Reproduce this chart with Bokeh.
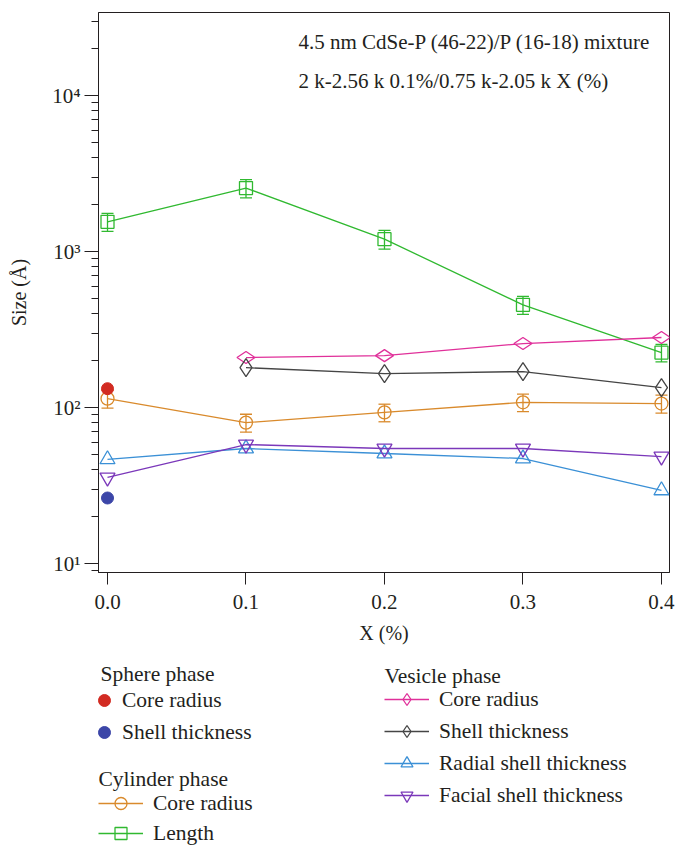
from bokeh.plotting import figure
from bokeh.layouts import column
from bokeh.models import (ColumnDataSource, Whisker, TeeHead, Legend, LegendItem,
                          FixedTicker, Range1d, Label, NumeralTickFormatter,
                          CustomJSTickFormatter)
from bokeh.embed import file_html
from bokeh.resources import INLINE
import math

FONT = "Liberation Serif"
TXT = "#231f20"

# ---------------- data ----------------
x_all = [0.0, 0.1, 0.2, 0.3, 0.4]
x_vesicle = [0.1, 0.2, 0.3, 0.4]
x_sphere = [0.0]

sphere_core_radius = [132]
sphere_shell_thickness = [26.3]

cyl_core_radius = [114, 80, 93, 108, 106]
cyl_core_radius_err = [15, 10.5, 12, 14, 14]
cyl_length = [1550, 2550, 1200, 455, 225]
cyl_length_err = [205, 340, 165, 60, 29]

ves_core_radius = [209, 215, 257, 281]
ves_shell_thickness = [180, 165, 170, 134]
ves_radial_shell = [46.5, 54.6, 50.7, 47.1, 29.4]
ves_facial_shell = [35.6, 57.9, 54.6, 54.6, 48.5]

y_major_ticks = [10, 100, 1000, 10000]
y_minor_ticks = [m * 10 ** k for k in range(0, 5) for m in range(2, 10)]
x_ticks = [0.0, 0.1, 0.2, 0.3, 0.4]

annot_line1 = "4.5 nm CdSe-P (46-22)/P (16-18) mixture"
annot_line2 = "2 k-2.56 k 0.1%/0.75 k-2.05 k X (%)"

C_RED = "#d22b22"
C_NAVY = "#3c46a8"
C_ORANGE = "#d98a2c"
C_GREEN = "#30b930"
C_PINK = "#e0309a"
C_GRAY = "#454545"
C_BLUE = "#3b90d6"
C_PURPLE = "#7b38ba"

LW = 1.3

# ---------------- main figure ----------------
p = figure(frame_width=571, frame_height=560,
           min_border_left=98, min_border_right=8, min_border_top=12, min_border_bottom=78,
           y_axis_type="log",
           x_range=Range1d(-0.0065, 0.4058),
           y_range=Range1d(10 ** 0.94231, 10 ** 4.5321),
           output_backend="svg", toolbar_location=None,
           background_fill_color="white", border_fill_color="white")
p.xgrid.visible = False
p.ygrid.visible = False
p.outline_line_color = TXT
p.outline_line_width = 1

# legend-only figure (below the plot); its frame is aligned with the main frame
lg = figure(width=677, height=197, x_range=Range1d(10, 11), y_range=Range1d(-2, -1),
            min_border_left=0, min_border_right=0, min_border_top=0, min_border_bottom=0,
            x_axis_location=None, y_axis_location=None,
            output_backend="svg", toolbar_location=None,
            background_fill_color="white", border_fill_color="white")
lg.xgrid.visible = False
lg.ygrid.visible = False
lg.outline_line_color = None


def err_source(xs, ys, es):
    return ColumnDataSource(dict(x=xs, upper=[y + e for y, e in zip(ys, es)],
                                 lower=[y - e for y, e in zip(ys, es)]))


def add_whisker(fig, xs, ys, es, color):
    w = Whisker(source=err_source(xs, ys, es), base="x", upper="upper", lower="lower",
                line_color=color, line_width=LW,
                upper_head=TeeHead(size=12, line_color=color, line_width=LW),
                lower_head=TeeHead(size=12, line_color=color, line_width=LW))
    fig.add_layout(w)


def draw_series(fig, errors):
    r = {}
    r["cyl_len_l"] = fig.line(x_all, cyl_length, line_color=C_GREEN, line_width=LW)
    if errors:
        add_whisker(fig, x_all, cyl_length, cyl_length_err, C_GREEN)
    r["cyl_len_m"] = fig.scatter(x_all, cyl_length, marker="square", size=13,
                                 line_color=C_GREEN, line_width=LW, fill_alpha=0)

    r["cyl_core_l"] = fig.line(x_all, cyl_core_radius, line_color=C_ORANGE, line_width=LW)
    if errors:
        add_whisker(fig, x_all, cyl_core_radius, cyl_core_radius_err, C_ORANGE)
    r["cyl_core_m"] = fig.scatter(x_all, cyl_core_radius, marker="circle", size=13,
                                  line_color=C_ORANGE, line_width=LW, fill_alpha=0)

    r["ves_core_l"] = fig.line(x_vesicle, ves_core_radius, line_color=C_PINK, line_width=LW)
    r["ves_core_m"] = fig.scatter(x_vesicle, ves_core_radius, marker="diamond", size=18,
                                  angle=math.pi / 2, line_color=C_PINK, line_width=LW,
                                  fill_alpha=0)

    r["ves_shell_l"] = fig.line(x_vesicle, ves_shell_thickness, line_color=C_GRAY, line_width=LW)
    r["ves_shell_m"] = fig.scatter(x_vesicle, ves_shell_thickness, marker="diamond", size=18,
                                   line_color=C_GRAY, line_width=LW, fill_alpha=0)

    r["ves_rad_l"] = fig.line(x_all, ves_radial_shell, line_color=C_BLUE, line_width=LW)
    r["ves_rad_m"] = fig.scatter(x_all, ves_radial_shell, marker="triangle", size=15,
                                 line_color=C_BLUE, line_width=LW, fill_alpha=0)

    r["ves_fac_l"] = fig.line(x_all, ves_facial_shell, line_color=C_PURPLE, line_width=LW)
    r["ves_fac_m"] = fig.scatter(x_all, ves_facial_shell, marker="inverted_triangle", size=15,
                                 line_color=C_PURPLE, line_width=LW, fill_alpha=0)

    r["sph_core"] = fig.scatter(x_sphere, sphere_core_radius, marker="circle", size=12,
                                line_color=C_RED, fill_color=C_RED)
    r["sph_shell"] = fig.scatter(x_sphere, sphere_shell_thickness, marker="circle", size=12,
                                 line_color=C_NAVY, fill_color=C_NAVY)
    return r


draw_series(p, True)
R = draw_series(lg, False)

# ---------------- axes ----------------
p.yaxis.ticker = FixedTicker(ticks=y_major_ticks, minor_ticks=y_minor_ticks)
p.yaxis.formatter = CustomJSTickFormatter(code="""
const s = {0: '\u2070', 1: '\u00b9', 2: '\u00b2', 3: '\u00b3', 4: '\u2074', 5: '\u2075'};
return '10' + s[Math.round(Math.log10(tick))];
""")
p.xaxis.ticker = FixedTicker(ticks=x_ticks)
p.xaxis.formatter = NumeralTickFormatter(format="0.0")

for ax in (p.xaxis[0], p.yaxis[0]):
    ax.axis_line_color = TXT
    ax.axis_line_width = 1
    ax.major_tick_line_color = TXT
    ax.minor_tick_line_color = TXT
    ax.major_tick_in = 0
    ax.minor_tick_in = 0
    ax.major_label_text_font = FONT
    ax.major_label_text_font_size = "21px"
    ax.major_label_text_color = TXT
    ax.axis_label_text_font = FONT
    ax.axis_label_text_font_size = "20px"
    ax.axis_label_text_font_style = "normal"
    ax.axis_label_text_color = TXT

p.yaxis.major_tick_out = 14
p.yaxis.minor_tick_out = 7
p.yaxis.major_label_standoff = 4
p.yaxis.axis_label = "Size (Å)"
p.yaxis.axis_label_standoff = 19

p.xaxis.major_tick_out = 12
p.xaxis.minor_tick_out = 0
p.xaxis.major_label_standoff = 10
p.xaxis.axis_label = "X (%)"
p.xaxis.axis_label_standoff = 10

# ---------------- annotation ----------------
for txt, yv in ((annot_line1, 21900), (annot_line2, 12470)):
    p.add_layout(Label(x=0.1379, y=yv, text=txt, text_baseline="middle",
                       text_font=FONT, text_font_size="21px", text_color=TXT))

# ---------------- legends ----------------
LFS = "21.5px"
common = dict(padding=0, margin=0, border_line_color=None, background_fill_alpha=0,
              label_text_font=FONT, label_text_font_size=LFS, label_text_color=TXT,
              glyph_height=30, label_height=30)


def group_title(text, x, y):
    lg.add_layout(Label(x=x, y=y, x_units="screen", y_units="screen", text=text,
                        text_baseline="middle", text_font=FONT, text_font_size=LFS,
                        text_color=TXT))


leg_sphere = Legend(items=[LegendItem(label="Core radius", renderers=[R["sph_core"]]),
                           LegendItem(label="Shell thickness", renderers=[R["sph_shell"]])],
                    location=(-9, 100), glyph_width=30, spacing=2, label_standoff=3, **common)
lg.add_layout(leg_sphere)
group_title("Sphere phase", 2, 174)

leg_cyl = Legend(items=[LegendItem(label="Core radius", renderers=[R["cyl_core_l"], R["cyl_core_m"]]),
                        LegendItem(label="Length", renderers=[R["cyl_len_l"], R["cyl_len_m"]])],
                 location=(0, -1), glyph_width=45, spacing=0, label_standoff=10, **common)
lg.add_layout(leg_cyl)
group_title("Cylinder phase", 0, 69)

leg_ves = Legend(items=[LegendItem(label="Core radius", renderers=[R["ves_core_l"], R["ves_core_m"]]),
                        LegendItem(label="Shell thickness", renderers=[R["ves_shell_l"], R["ves_shell_m"]]),
                        LegendItem(label="Radial shell thickness", renderers=[R["ves_rad_l"], R["ves_rad_m"]]),
                        LegendItem(label="Facial shell thickness", renderers=[R["ves_fac_l"], R["ves_fac_m"]])],
                 location=(286, 37), glyph_width=45, spacing=2, label_standoff=10, **common)
lg.add_layout(leg_ves)
group_title("Vesicle phase", 286, 172)

layout = column(p, lg, spacing=0)
open("out.html", "w").write(file_html(layout, INLINE))
